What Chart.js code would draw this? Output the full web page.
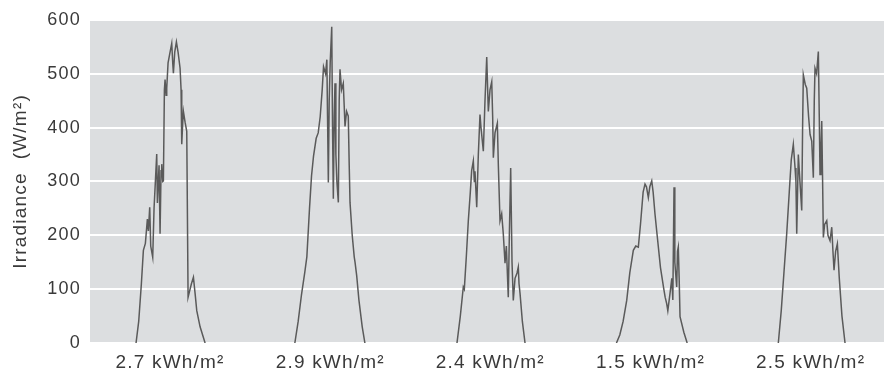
<!DOCTYPE html>
<html>
<head>
<meta charset="utf-8">
<script src="https://cdn.jsdelivr.net/npm/chart.js@4"></script>
<style>
  html, body { margin: 0; padding: 0; background: #fff; }
  #wrap { width: 884px; height: 379px; }
</style>
</head>
<body>
<div id="wrap"><canvas id="irr"></canvas></div>
<script>
// hour of day -> irradiance (W/m2), one pair of arrays per day
const day1Hour = [6.9, 7.3, 7.7, 8.0, 8.3, 8.6, 8.75, 8.95, 9.1, 9.4, 9.6, 9.8, 10.0, 10.1, 10.35, 10.5, 10.65, 10.75, 10.9, 11.0, 11.15, 11.25, 11.4, 11.5, 11.7, 12.0, 12.25, 12.4, 12.5, 12.7, 12.95, 13.2, 13.5, 13.65, 13.75, 13.9, 14.0, 14.25, 14.5, 14.7, 14.9, 15.2, 15.5, 15.75, 16.0, 16.5, 17.25];
const day1W    = [0, 40, 110, 172, 185, 230, 208, 252, 180, 159, 250, 300, 351, 260, 330, 203, 320, 332, 300, 301, 470, 489, 460, 473, 520, 540, 556, 520, 501, 540, 559, 540, 510, 470, 369, 410, 430, 410, 393, 85, 95, 110, 122, 92, 60, 30, 0];

const day2Hour = [6.7, 7.2, 7.7, 8.2, 8.5, 8.9, 9.2, 9.5, 9.9, 10.2, 10.5, 10.8, 11.0, 11.3, 11.5, 11.6, 11.72, 11.85, 12.0, 12.23, 12.35, 12.47, 12.6, 12.72, 12.85, 13.0, 13.22, 13.35, 13.47, 13.7, 13.96, 14.1, 14.22, 14.45, 14.71, 14.85, 14.97, 15.3, 15.6, 15.72, 15.97, 16.3, 16.8, 17.2];
const day2W    = [0, 40, 90, 132, 160, 250, 310, 347, 380, 390, 420, 470, 513, 500, 526, 420, 298, 450, 520, 587, 400, 268, 420, 482, 350, 300, 261, 450, 508, 470, 482, 440, 402, 430, 421, 330, 261, 200, 160, 150, 125, 80, 30, 0];

const day3Hour = [7.0, 7.5, 7.95, 8.1, 8.4, 8.7, 9.0, 9.2, 9.45, 9.6, 9.7, 9.96, 10.2, 10.45, 10.6, 10.95, 11.2, 11.46, 11.6, 11.7, 11.95, 12.21, 12.35, 12.45, 12.7, 13.05, 13.2, 13.45, 13.7, 13.94, 14.2, 14.4, 14.69, 14.85, 15.05, 15.25, 15.44, 15.7, 16.0, 16.19, 16.3, 16.45, 16.8, 17.2];
const day3W    = [0, 50, 104, 100, 160, 227, 280, 320, 338, 300, 319, 252, 350, 424, 400, 356, 450, 531, 470, 430, 470, 485, 420, 344, 390, 408, 330, 227, 240, 203, 148, 180, 85, 200, 325, 150, 79, 120, 130, 141, 110, 92, 40, 0];

const day4Hour = [6.9, 7.4, 7.9, 8.44, 8.9, 9.43, 9.8, 10.18, 10.5, 10.9, 11.18, 11.4, 11.68, 11.9, 12.19, 12.4, 12.68, 13.0, 13.5, 14.0, 14.2, 14.43, 14.6, 14.93, 15.2, 15.35, 15.53, 15.65, 15.93, 16.05, 16.17, 16.3, 16.43, 17.0, 17.5];
const day4W    = [0, 15, 40, 79, 130, 172, 180, 178, 220, 280, 295, 290, 270, 290, 301, 280, 239, 200, 140, 100, 85, 73, 60, 92, 120, 80, 289, 150, 104, 170, 178, 120, 49, 20, 0];

const day5Hour = [7.16, 7.6, 8.0, 8.42, 8.8, 9.1, 9.41, 9.67, 9.8, 9.92, 10.16, 10.4, 10.67, 10.8, 10.91, 11.2, 11.42, 11.7, 11.92, 12.17, 12.41, 12.55, 12.66, 12.9, 13.16, 13.3, 13.41, 13.55, 13.67, 13.8, 13.91, 14.1, 14.42, 14.6, 14.91, 15.17, 15.35, 15.51, 15.75, 16.01, 16.3, 16.7, 17.16];
const day5W    = [0, 60, 130, 203, 280, 340, 369, 325, 300, 203, 350, 300, 246, 400, 498, 480, 473, 420, 387, 375, 307, 450, 510, 500, 541, 420, 313, 360, 412, 300, 196, 220, 227, 200, 190, 215, 170, 135, 170, 184, 120, 50, 0];

const dayLabels = ['2.7 kWh/m²', '2.9 kWh/m²', '2.4 kWh/m²', '1.5 kWh/m²', '2.5 kWh/m²'];
const dayCenters = [12, 36, 60, 84, 108];
const yTicks = [0, 100, 200, 300, 400, 500, 600];

// build one continuous series, with a gap between days
const days = [[day1Hour, day1W], [day2Hour, day2W], [day3Hour, day3W], [day4Hour, day4W], [day5Hour, day5W]];
const points = [];
days.forEach(([hrs, vals], d) => {
    hrs.forEach((h, i) => points.push({ x: d * 24 + h, y: vals[i] }));
    points.push({ x: d * 24 + 20, y: null });
});

const textColor = '#3a3a3a';

const plotBg = {
    id: 'plotBg',
    beforeLayout(chart) {
        chart.ctx.letterSpacing = '1.2px';
    },
    beforeDraw(chart) {
        const { ctx, chartArea: a } = chart;
        ctx.save();
        ctx.fillStyle = '#dcdee0';
        ctx.fillRect(a.left, a.top, a.right - a.left, a.bottom - a.top);
        ctx.restore();
        ctx.letterSpacing = '1.2px';
    }
};

new Chart(document.getElementById('irr'), {
    type: 'line',
    data: {
        datasets: [{
            data: points,
            borderColor: '#5a5a5a',
            borderWidth: 1.5,
            pointRadius: 0,
            tension: 0,
            spanGaps: false
        }]
    },
    options: {
        responsive: true,
        maintainAspectRatio: false,
        animation: false,
        layout: { padding: { top: 18, right: 0, left: 0, bottom: 0 } },
        plugins: { legend: { display: false }, tooltip: { enabled: false } },
        scales: {
            x: {
                type: 'linear',
                min: 0,
                max: 119,
                afterBuildTicks: (scale) => { scale.ticks = dayCenters.map(v => ({ value: v })); },
                afterFit: (scale) => { scale.height = 36; },
                grid: { display: false, drawTicks: false },
                border: { display: false },
                ticks: {
                    padding: 8,
                    color: textColor,
                    font: { family: 'Liberation Sans', size: 19 },
                    maxRotation: 0,
                    autoSkip: false,
                    callback: (v, i) => dayLabels[i]
                }
            },
            y: {
                min: 0,
                max: 600,
                afterBuildTicks: (scale) => { scale.ticks = yTicks.map(v => ({ value: v })); },
                afterFit: (scale) => { scale.width = 90; },
                grid: { color: '#ffffff', lineWidth: 2, drawTicks: false },
                border: { display: false },
                ticks: {
                    padding: 9,
                    color: textColor,
                    font: { family: 'Liberation Sans', size: 18 }
                },
                title: {
                    display: true,
                    text: 'Irradiance  (W/m²)',
                    color: textColor,
                    font: { family: 'Liberation Sans', size: 19 },
                    padding: { top: 9, bottom: 0 }
                }
            }
        }
    },
    plugins: [plotBg]
});
</script>
</body>
</html>
